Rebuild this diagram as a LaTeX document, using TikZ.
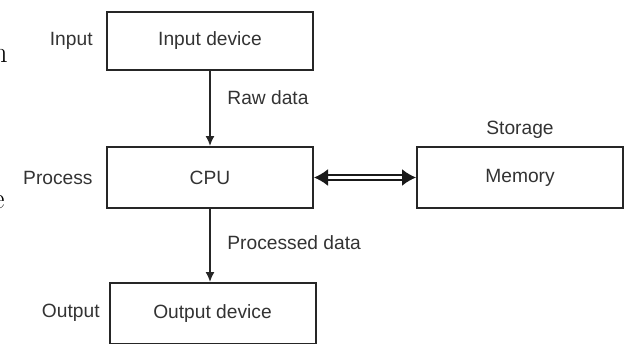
\documentclass[tikz,border=0pt]{standalone}
\usepackage{fontspec}
\newfontfamily\arialfont{Liberation Sans}
\usetikzlibrary{arrows.meta}
\begin{document}
\begin{tikzpicture}[x=0.5pt,y=-0.5pt,
  box/.style={draw=black!85, line width=1pt, minimum width=103pt, inner sep=0pt,
    font=\arialfont\fontsize{9.6}{11}\selectfont, text=black!80},
  lbl/.style={inner sep=0pt, font=\arialfont\fontsize{9.6}{11}\selectfont, text=black!80},
  flow/.style={draw=black!85, line width=0.8pt, -{Latex[length=5pt,width=4.5pt]}},
  biflow/.style={draw=black!90, double, double distance=1.4pt, line width=0.9pt,
    {Latex[length=7pt,width=8.5pt]}-{Latex[length=7pt,width=8.5pt]}},
  cut/.style={inner sep=0pt, font=\fontsize{15}{18}\selectfont}
]
\useasboundingbox (0,0) rectangle (625,343);
% boxes
\node[box, minimum height=29pt] (in) at (210,41) {Input device};
\node[box, minimum height=30.5pt] (cpu) at (210,177.5) {CPU};
\node[box, minimum height=30.5pt] (mem) at (520,177.5) {Memory};
\node[box, minimum height=30.5pt] (out) at (212.5,313.5) {Output device};
% labels
\node[lbl, anchor=east] (linput) at (93,41) {Input};
\node[lbl, anchor=east] (lproc) at (93,178) {Process};
\node[lbl, anchor=east] (lout) at (100,313) {Output};
\node[lbl, anchor=west] (raw) at (227,98) {Raw data};
\node[lbl, anchor=west] (procd) at (227,243) {Processed data};
\node[lbl] (stor) at (520,130) {Storage};
% cut-off letters at the left edge
\node[cut, anchor=base east] (artn) at (8,62) {n};
\node[cut, anchor=base east] (arte) at (5,208) {e};
% connectors
\draw[flow] (in.south) -- (cpu.north);
\draw[flow] (cpu.south) -- (cpu.south |- out.north);
\draw[biflow] (cpu.east) -- (mem.west);
\end{tikzpicture}
\end{document}
